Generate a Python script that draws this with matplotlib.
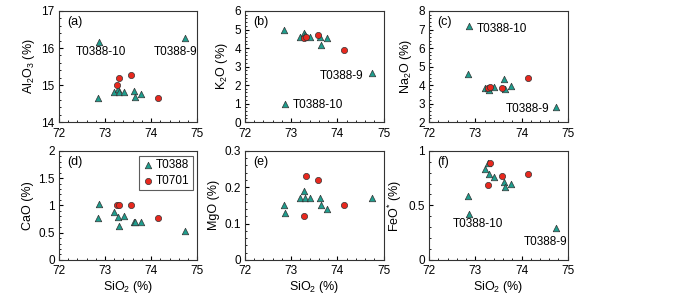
import numpy as np
import matplotlib.pyplot as plt
from matplotlib.ticker import AutoMinorLocator, MultipleLocator, FormatStrFormatter

plt.rcParams['font.family'] = ['Liberation Sans', 'DejaVu Sans']
plt.rcParams['font.size'] = 8
plt.rcParams['mathtext.fontset'] = 'custom'
plt.rcParams['mathtext.rm'] = 'Liberation Sans'
plt.rcParams['mathtext.it'] = 'Liberation Sans'

# T0388 samples (triangles); index 1 = T0388-10, index 9 = T0388-9
t0388_sio2 = [72.84, 72.87, 73.20, 73.28, 73.30, 73.41, 73.63, 73.65, 73.77, 74.74]
t0388_al2o3 = [14.65, 16.15, 14.80, 14.89, 14.80, 14.80, 14.85, 14.68, 14.75, 16.26]
t0388_k2o = [5.00, 0.98, 4.60, 4.82, 4.70, 4.62, 4.57, 4.18, 4.52, 2.65]
t0388_na2o = [4.57, 7.19, 3.83, 3.86, 3.75, 3.92, 4.33, 3.80, 3.97, 2.81]
t0388_cao = [0.76, 1.03, 0.88, 0.78, 0.62, 0.80, 0.69, 0.69, 0.69, 0.53]
t0388_mgo = [0.15, 0.13, 0.17, 0.19, 0.17, 0.17, 0.17, 0.15, 0.14, 0.17]
t0388_feo = [0.59, 0.42, 0.83, 0.89, 0.79, 0.76, 0.71, 0.67, 0.70, 0.29]

# T0701 samples (circles)
t0701_sio2 = [73.27, 73.31, 73.57, 74.15]
t0701_al2o3 = [15.01, 15.20, 15.26, 14.66]
t0701_k2o = [4.55, 4.57, 4.72, 3.88]
t0701_na2o = [3.84, 3.90, 3.84, 4.39]
t0701_cao = [1.00, 1.00, 1.00, 0.76]
t0701_mgo = [0.12, 0.23, 0.22, 0.15]
t0701_feo = [0.69, 0.89, 0.77, 0.79]

teal = '#1f9e8e'
red = '#e8281e'

fig = plt.figure(figsize=(7, 2.97), dpi=100)

lefts = [0.084, 0.350, 0.613]
w = 0.198
panels = [
    ('(a)', 'Al$_2$O$_3$ (%)', t0388_al2o3, t0701_al2o3, (14, 17), 1),
    ('(b)', 'K$_2$O (%)', t0388_k2o, t0701_k2o, (0, 6), 1),
    ('(c)', 'Na$_2$O (%)', t0388_na2o, t0701_na2o, (2, 8), 1),
    ('(d)', 'CaO (%)', t0388_cao, t0701_cao, (0, 2), 0.5),
    ('(e)', 'MgO (%)', t0388_mgo, t0701_mgo, (0, 0.3), 0.1),
    ('(f)', 'FeO$^{*}$ (%)', t0388_feo, t0701_feo, (0, 1), 0.5),
]

axes = []
for i, (tag, ylab, y1, y2, ylim, step) in enumerate(panels):
    row = i // 3
    col = i % 3
    bottom = 0.589 if row == 0 else 0.125
    h = 0.374 if row == 0 else 0.367
    ax = fig.add_axes([lefts[col], bottom, w, h])
    ax.scatter(t0388_sio2, y1, marker='^', s=22, c=teal, edgecolors='#333333',
               linewidths=0.5, zorder=3, label='T0388')
    ax.scatter(t0701_sio2, y2, marker='o', s=20, c=red, edgecolors='#333333',
               linewidths=0.5, zorder=3, label='T0701')
    ax.set_xlim(72, 75)
    ax.set_ylim(*ylim)
    ax.xaxis.set_major_locator(MultipleLocator(1))
    ax.yaxis.set_major_locator(MultipleLocator(step))
    ax.xaxis.set_minor_locator(AutoMinorLocator(5))
    ax.yaxis.set_minor_locator(AutoMinorLocator(5))
    ax.yaxis.set_major_formatter(FormatStrFormatter('%g'))
    ax.tick_params(which='both', direction='in', top=False, right=False,
                   labelsize=8.5)
    ax.tick_params(axis='x', pad=4)
    ax.tick_params(axis='y', pad=3)
    ax.tick_params(which='major', length=3)
    ax.tick_params(which='minor', length=1.5)
    for s in ax.spines.values():
        s.set_linewidth(0.8)
        s.set_color('#333333')
    ax.set_ylabel(ylab, fontsize=9, labelpad=3)
    if row == 1:
        ax.set_xlabel('SiO$_2$ (%)', fontsize=9, labelpad=1)
    ax.text(0.06, 0.9, tag, transform=ax.transAxes, fontsize=9, va='center')
    axes.append(ax)

a, b, c, d, e, f = axes
a.text(72.92, 15.88, 'T0388-10', ha='center', va='center', fontsize=8.5)
a.text(74.52, 15.88, 'T0388-9', ha='center', va='center', fontsize=8.5)
b.text(74.1, 2.49, 'T0388-9', ha='center', va='center', fontsize=8.5)
b.text(73.03, 0.92, 'T0388-10', ha='left', va='center', fontsize=8.5)
c.text(73.04, 7.05, 'T0388-10', ha='left', va='center', fontsize=8.5)
c.text(74.6, 2.7, 'T0388-9', ha='right', va='center', fontsize=8.5)
f.text(73.05, 0.33, 'T0388-10', ha='center', va='center', fontsize=8.5)
f.text(74.99, 0.165, 'T0388-9', ha='right', va='center', fontsize=8.5)

leg = d.legend(loc='upper right', fontsize=8.5, frameon=True, fancybox=False,
               handletextpad=0.1, borderpad=0.3, labelspacing=0.3,
               handlelength=1.0, borderaxespad=0.4)
leg.get_frame().set_edgecolor('#333333')
leg.get_frame().set_linewidth(0.8)

fig.savefig('out.png', dpi=100)
